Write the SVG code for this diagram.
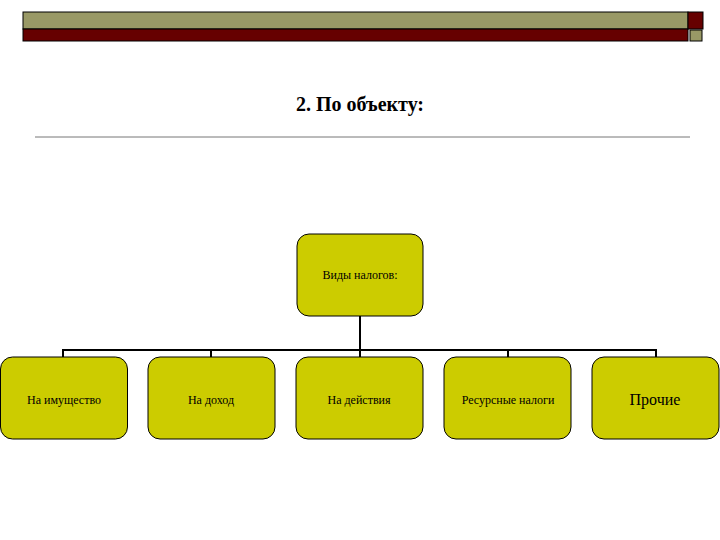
<svg xmlns="http://www.w3.org/2000/svg" width="720" height="540" viewBox="0 0 720 540">
<style>
.b{fill:#cccc00;stroke:#000;stroke-width:1}
.t{font-family:"Liberation Serif",serif;font-size:12px;text-anchor:middle}
</style>
<rect width="720" height="540" fill="#fff"/>
<g id="header">
<rect x="23" y="12" width="665" height="17" fill="#999966" stroke="#000"/>
<rect x="23" y="29" width="665" height="12" fill="#660000" stroke="#000"/>
<rect x="688" y="12" width="15" height="17" fill="#660000" stroke="#000"/>
<rect x="690" y="30" width="12" height="11" fill="#999966" stroke="#000"/>
</g>
<text x="360" y="111" font-family="Liberation Serif,serif" font-size="20" font-weight="bold" text-anchor="middle">2. По объекту:</text>
<line x1="35" y1="137" x2="690" y2="137" stroke="#777" stroke-width="1"/>
<g id="connectors" stroke="#000" stroke-width="2" fill="none">
<path d="M360 316V350M63 357V350H656V357M211 350V357M360 350V357M508 350V357"/>
</g>
<g id="root"><rect class="b" x="297" y="234" width="126" height="82" rx="12"/><text class="t" x="360" y="279" font-size="11">Виды налогов:</text></g>
<g id="n1"><rect class="b" x="0.5" y="357" width="127" height="82" rx="12"/><text class="t" x="64" y="404">На имущество</text></g>
<g id="n2"><rect class="b" x="148" y="357" width="127" height="82" rx="12"/><text class="t" x="211" y="404">На доход</text></g>
<g id="n3"><rect class="b" x="296" y="357" width="127" height="82" rx="12"/><text class="t" x="359" y="404">На действия</text></g>
<g id="n4"><rect class="b" x="444" y="357" width="127" height="82" rx="12"/><text class="t" x="508" y="404">Ресурсные налоги</text></g>
<g id="n5"><rect class="b" x="592" y="357" width="127" height="82" rx="12"/><text class="t" x="655" y="405" style="font-size:16px">Прочие</text></g>
</svg>
